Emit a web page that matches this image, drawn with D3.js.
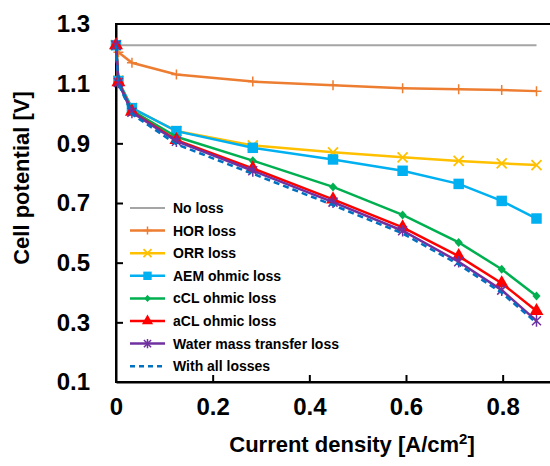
<!DOCTYPE html>
<html>
<head>
<meta charset="utf-8">
<script src="https://cdn.jsdelivr.net/npm/d3@7"></script>
<style>
  body { margin: 0; background: #fff; }
  svg text { font-family: "Liberation Sans", Arial, sans-serif; font-weight: bold; }
</style>
</head>
<body>
<div id="viz"></div>
<script>
// current density [A/cm2] at each measured point
var currentDensity = [0, 0.005, 0.033, 0.125, 0.283, 0.449, 0.593, 0.709, 0.798, 0.870];

var noLoss = [1.229, 1.229];
var noLossX = [0, 0.870];
var horLoss = [1.229, 1.205, 1.170, 1.131, 1.107, 1.095, 1.085, 1.081, 1.079, 1.075];
var orrLoss = [1.229, 1.110, 1.018, 0.941, 0.893, 0.870, 0.853, 0.841, 0.833, 0.827];
var aemLoss = [1.229, 1.109, 1.018, 0.941, 0.885, 0.846, 0.808, 0.764, 0.707, 0.648];
var cclLoss = [1.229, 1.107, 1.010, 0.922, 0.842, 0.754, 0.660, 0.568, 0.478, 0.388];
var aclLoss = [1.229, 1.105, 1.006, 0.911, 0.816, 0.712, 0.618, 0.522, 0.431, 0.338];
var waterLoss = [1.229, 1.104, 1.004, 0.907, 0.808, 0.703, 0.607, 0.503, 0.408, 0.305];
var allLosses = [1.229, 1.100, 0.998, 0.897, 0.798, 0.693, 0.598, 0.494, 0.399, 0.298];

var xTicks = [0, 0.2, 0.4, 0.6, 0.8];
var yTicks = [0.1, 0.3, 0.5, 0.7, 0.9, 1.1, 1.3];

var series = [
  { name: 'No loss', x: noLossX, y: noLoss, color: '#a5a5a5', marker: 'none', width: 2 },
  { name: 'HOR loss', x: currentDensity, y: horLoss, color: '#ed7d31', marker: 'plus', width: 2.5 },
  { name: 'ORR loss', x: currentDensity, y: orrLoss, color: '#ffc000', marker: 'cross', width: 2.5 },
  { name: 'AEM ohmic loss', x: currentDensity, y: aemLoss, color: '#00b0f0', marker: 'square', width: 2.5 },
  { name: 'cCL ohmic loss', x: currentDensity, y: cclLoss, color: '#00b050', marker: 'diamond', width: 2.5 },
  { name: 'aCL ohmic loss', x: currentDensity, y: aclLoss, color: '#ff0000', marker: 'triangle', width: 2.5 },
  { name: 'Water mass transfer loss', x: currentDensity, y: waterLoss, color: '#7030a0', marker: 'star', width: 2.5 },
  { name: 'With all losses', x: currentDensity, y: allLosses, color: '#0070c0', marker: 'none', width: 2.5, dash: '6,4' }
];

var width = 550, height = 466;
var margin = { top: 24, left: 116, bottom: 84 };

var xScale = d3.scaleLinear().domain([0, 0.9]).range([margin.left, 551]);
var yScale = d3.scaleLinear().domain([0.1, 1.3]).range([height - margin.bottom + 0, margin.top]);

var svg = d3.select('#viz').append('svg')
  .attr('width', width)
  .attr('height', height);

// plot frame
svg.append('rect')
  .attr('x', xScale(0))
  .attr('y', yScale(1.3))
  .attr('width', xScale(0.9) - xScale(0))
  .attr('height', yScale(0.1) - yScale(1.3))
  .attr('fill', 'none')
  .attr('stroke', '#000')
  .attr('stroke-width', 2);

var xAxis = d3.axisBottom(xScale)
  .tickValues(xTicks)
  .tickSize(-7)
  .tickSizeOuter(0)
  .tickPadding(16)
  .tickFormat(function(d) { return d === 0 ? '0' : d3.format('.1f')(d); });

var yAxis = d3.axisLeft(yScale)
  .tickValues(yTicks)
  .tickSize(-7)
  .tickSizeOuter(0)
  .tickPadding(26)
  .tickFormat(d3.format('.1f'));

var xGuide = svg.append('g')
  .attr('transform', 'translate(0,' + yScale(0.1) + ')')
  .call(xAxis);
xGuide.select('.domain').attr('stroke-width', 2);
xGuide.selectAll('line').attr('stroke-width', 2)
  .style('display', function(d) { return d === 0 ? 'none' : null; });
xGuide.selectAll('text').style('font-size', '24px').attr('fill', '#000');

var yGuide = svg.append('g')
  .attr('transform', 'translate(' + xScale(0) + ',0)')
  .call(yAxis);
yGuide.select('.domain').attr('stroke-width', 2);
yGuide.selectAll('line').attr('stroke-width', 2)
  .style('display', function(d) { return (d === 0.1 || d === 1.3) ? 'none' : null; });
yGuide.selectAll('text').style('font-size', '24px').attr('fill', '#000');

// axis titles
var xTitle = svg.append('text')
  .attr('x', 352)
  .attr('y', 452)
  .attr('text-anchor', 'middle')
  .style('font-size', '22px');
xTitle.append('tspan').text('Current density [A/cm');
xTitle.append('tspan').text('2').attr('dy', -8).style('font-size', '15px');
xTitle.append('tspan').text(']').attr('dy', 8);

svg.append('text')
  .attr('transform', 'translate(29,178) rotate(-90)')
  .attr('text-anchor', 'middle')
  .style('font-size', '22px')
  .text('Cell potential [V]');

var line = d3.line();

function drawMarker(g, type, color, size) {
  var s = size;
  if (type === 'plus') {
    g.append('path').attr('d', 'M' + (-s) + ',0H' + s + 'M0,' + (-s) + 'V' + s)
      .attr('stroke', color).attr('stroke-width', 1.5).attr('fill', 'none');
  } else if (type === 'cross') {
    g.append('path').attr('d', 'M' + (-s) + ',' + (-s) + 'L' + s + ',' + s + 'M' + (-s) + ',' + s + 'L' + s + ',' + (-s))
      .attr('stroke', color).attr('stroke-width', 1.8).attr('fill', 'none');
  } else if (type === 'star') {
    g.append('path').attr('d', 'M' + (-s) + ',' + (-s) + 'L' + s + ',' + s + 'M' + (-s) + ',' + s + 'L' + s + ',' + (-s) + 'M0,' + (-s * 1.3) + 'V' + (s * 1.3))
      .attr('stroke', color).attr('stroke-width', 1.5).attr('fill', 'none');
  } else if (type === 'square') {
    g.append('path').attr('d', d3.symbol().type(d3.symbolSquare).size(s * s * 4.4))
      .attr('fill', color);
  } else if (type === 'diamond') {
    g.append('path').attr('d', 'M0,' + (-s) + 'L' + (s * 0.9) + ',0L0,' + s + 'L' + (-s * 0.9) + ',0Z')
      .attr('fill', color);
  } else if (type === 'triangle') {
    g.append('path').attr('d', d3.symbol().type(d3.symbolTriangle).size(s * s * 3.4))
      .attr('fill', color);
  }
}

var markerSize = { plus: 5, cross: 5, star: 4.5, square: 5, diamond: 4.5, triangle: 5 };

series.forEach(function(s) {
  var pts = s.x.map(function(x, i) { return [xScale(x), yScale(s.y[i])]; });
  svg.append('path')
    .attr('d', line(pts))
    .attr('fill', 'none')
    .attr('stroke', s.color)
    .attr('stroke-width', s.width)
    .attr('stroke-dasharray', s.dash || null);
  if (s.marker !== 'none') {
    pts.forEach(function(p) {
      var g = svg.append('g').attr('transform', 'translate(' + p[0] + ',' + p[1] + ')');
      drawMarker(g, s.marker, s.color, markerSize[s.marker]);
    });
  }
});

// legend
var legend = svg.append('g').attr('transform', 'translate(130,208)');
series.forEach(function(s, i) {
  var g = legend.append('g').attr('transform', 'translate(0,' + (i * 22.6) + ')');
  g.append('line')
    .attr('x1', 0).attr('x2', 35)
    .attr('stroke', s.color)
    .attr('stroke-width', s.width)
    .attr('stroke-dasharray', s.dash ? '5,4' : null);
  if (s.marker !== 'none') {
    var m = g.append('g').attr('transform', 'translate(17.5,0)');
    drawMarker(m, s.marker, s.color, markerSize[s.marker] * 0.8);
  }
  g.append('text')
    .attr('x', 43)
    .attr('y', 5)
    .style('font-size', '14px')
    .text(s.name);
});
</script>
</body>
</html>
